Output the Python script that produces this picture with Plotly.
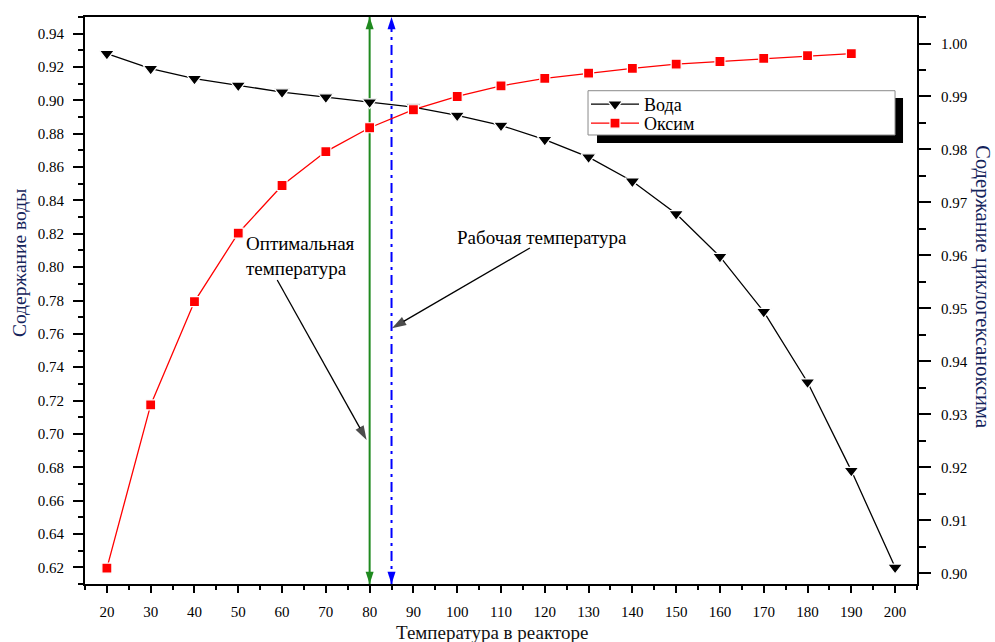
import plotly.graph_objects as go

# Reactor temperature, °C
temperature = [20, 30, 40, 50, 60, 70, 80, 90, 100, 110, 120, 130, 140, 150, 160, 170, 180, 190, 200]
# Water content (left axis)
water = [0.928, 0.919, 0.913, 0.909, 0.905, 0.902, 0.899, 0.896, 0.891, 0.885,
         0.8765, 0.866, 0.8515, 0.832, 0.8063, 0.7733, 0.731, 0.678, 0.620]
# Cyclohexanone oxime content (right axis)
oxime_temperature = [20, 30, 40, 50, 60, 70, 80, 90, 100, 110, 120, 130, 140, 150, 160, 170, 180, 190]
oxime = [0.901, 0.9318, 0.9513, 0.9642, 0.9732, 0.9796, 0.9841, 0.9875, 0.9900, 0.9920,
         0.9934, 0.9944, 0.9953, 0.9961, 0.9966, 0.9972, 0.9977, 0.9981]

# Marked temperatures
optimal_t = 80
working_t = 85

x_range = [15, 205]
y_left_range = [0.61, 0.95]
y_right_range = [0.898, 1.005]

SERIF = "Liberation Serif"
NAVY = "#14235a"

fig = go.Figure()

# Vertical marker lines with arrowheads at both axes
fig.add_trace(go.Scatter(
    x=[optimal_t, optimal_t], y=y_left_range, mode="lines+markers",
    line=dict(color="#1f8a1f", width=2),
    marker=dict(symbol="arrow", size=13, angle=[180, 0], color="#1f8a1f", line=dict(width=0)),
    showlegend=False, hoverinfo="skip", cliponaxis=False,
))
fig.add_trace(go.Scatter(
    x=[working_t, working_t], y=y_left_range, mode="lines+markers",
    line=dict(color="#0000ff", width=2, dash="10px,5px,3px,5px"),
    marker=dict(symbol="arrow", size=13, angle=[180, 0], color="#0000ff", line=dict(width=0)),
    showlegend=False, hoverinfo="skip", cliponaxis=False,
))

# Pointer arrows from the captions to the lines
pointers = [
    ([58.9, 79.3], [0.7923, 0.6964]),
    ([116.6, 85.1], [0.8115, 0.7634]),
]
for px, py in pointers:
    fig.add_trace(go.Scatter(
        x=px, y=py, mode="lines+markers",
        line=dict(color="black", width=1.3),
        marker=dict(symbol="arrow", size=[0, 15], angleref="previous", color="black",
                    line=dict(width=0)),
        showlegend=False, hoverinfo="skip",
    ))

fig.add_trace(go.Scatter(
    x=temperature, y=water, name="Вода", mode="lines+markers",
    line=dict(color="black", width=1.3),
    marker=dict(symbol="triangle-down", size=13, color="black", line=dict(color="white", width=1.2)),
    legend="legend",
))
fig.add_trace(go.Scatter(
    x=oxime_temperature, y=oxime, name="Оксим", mode="lines+markers", yaxis="y2",
    line=dict(color="#ff0000", width=1.3),
    marker=dict(symbol="square", size=10, color="#ff0000", line=dict(color="white", width=1.2)),
    legend="legend2",
))

tick_font = dict(family=SERIF, size=15, color="black")
legend_font = dict(family=SERIF, size=18, color="black")

fig.update_layout(
    width=995, height=642,
    margin=dict(l=85, r=78, t=17, b=58),
    paper_bgcolor="white", plot_bgcolor="white",
    font=dict(family=SERIF, color="black"),
    xaxis=dict(
        range=x_range, dtick=10, tick0=0, showgrid=False, zeroline=False,
        showline=True, linecolor="black", linewidth=2, mirror=True,
        ticks="outside", ticklen=7, tickwidth=2, tickcolor="black",
        minor=dict(dtick=5, tick0=0, ticks="outside", ticklen=4, tickwidth=2, tickcolor="black", showgrid=False),
        tickfont=tick_font, ticklabelstandoff=6,
    ),
    yaxis=dict(
        range=y_left_range, dtick=0.02, tick0=0.62, tickformat=".2f",
        showgrid=False, zeroline=False,
        showline=True, linecolor="black", linewidth=2,
        ticks="outside", ticklen=10, tickwidth=2, tickcolor="black",
        minor=dict(dtick=0.01, tick0=0.61, ticks="outside", ticklen=5, tickwidth=2, tickcolor="black", showgrid=False),
        tickfont=tick_font, ticklabelstandoff=6,
    ),
    yaxis2=dict(
        range=y_right_range, dtick=0.01, tick0=0.90, tickformat=".2f",
        overlaying="y", side="right", showgrid=False, zeroline=False,
        showline=True, linecolor="black", linewidth=2,
        ticks="outside", ticklen=12, tickwidth=2, tickcolor="black",
        minor=dict(dtick=0.005, tick0=0.90, ticks="outside", ticklen=7, tickwidth=2, tickcolor="black", showgrid=False),
        tickfont=tick_font, ticklabelstandoff=7,
    ),
    legend=dict(
        x=(586 - 85) / 832, y=(584 - 104.5) / 567, xanchor="left", yanchor="middle",
        bgcolor="rgba(0,0,0,0)", borderwidth=0, itemwidth=48,
        font=legend_font,
    ),
    legend2=dict(
        x=(586 - 85) / 832, y=(584 - 123.5) / 567, xanchor="left", yanchor="middle",
        bgcolor="rgba(0,0,0,0)", borderwidth=0, itemwidth=48,
        font=legend_font,
    ),
    shapes=[
        # legend frame with drop shadow
        dict(type="rect", xref="paper", yref="paper", layer="above",
             x0=0.6154, x1=0.9832, y0=0.7778, y1=0.8571,
             fillcolor="black", line=dict(width=0)),
        dict(type="rect", xref="paper", yref="paper", layer="above",
             x0=0.6046, x1=0.9736, y0=0.7919, y1=0.8700,
             fillcolor="white", line=dict(color="#8a8a8a", width=1)),
    ],
    annotations=[
        dict(text="Оптимальная<br>температура", x=51.3, y=0.8215, xref="x", yref="y",
             xanchor="left", yanchor="top", align="left", showarrow=False,
             font=dict(family=SERIF, size=19, color="black")),
        dict(text="Рабочая температура", x=99.4, y=0.8175, xref="x", yref="y",
             xanchor="left", yanchor="middle", showarrow=False,
             font=dict(family=SERIF, size=19, color="black")),
        dict(text="Температура в реакторе", x=(492 - 85) / 832, y=-0.0635, xref="paper", yref="paper",
             xanchor="center", yanchor="top", showarrow=False,
             font=dict(family=SERIF, size=19, color="#111111")),
        dict(text="Содержание воды", x=-0.0793, y=0.5660, xref="paper", yref="paper",
             xanchor="center", yanchor="middle", textangle=-90, showarrow=False,
             font=dict(family=SERIF, size=19.5, color=NAVY)),
        dict(text="Содержание циклогексаноксима", x=1.0790, y=0.5238, xref="paper", yref="paper",
             xanchor="center", yanchor="middle", textangle=90, showarrow=False,
             font=dict(family=SERIF, size=20.5, color=NAVY)),
    ],
)

fig.write_html("out.html")
